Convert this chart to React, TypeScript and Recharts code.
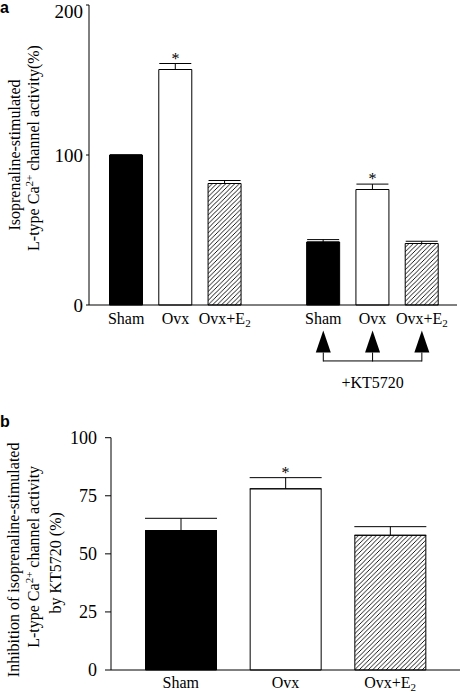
import React from "react";
import { BarChart, Bar, Cell, XAxis, YAxis, ErrorBar, ReferenceDot, ReferenceLine } from "recharts";

const SERIF = '"Liberation Serif", "Times New Roman", Times, serif';
const SANS = '"Liberation Sans", Arial, Helvetica, sans-serif';

// ─── panel a: isoprenaline-stimulated activity ───────────────────────────────
const A_KEYS = ["sham", "ovx", "ovxE2", "gap", "shamKT", "ovxKT", "ovxE2KT"];
const A_GROUPS = ["Sham", "Ovx", "Ovx+E2", "", "Sham", "Ovx", "Ovx+E2"];
const A_MEANS = [100, 157, 81, null, 42, 77, 41];
const A_SEM = [0, 4, 2, null, 1.6, 3.6, 1.5];
const A_SIG = [false, true, false, false, false, true, false];
const A_TICKS = [0, 100, 200];
const A_KT_KEYS = ["shamKT", "ovxKT", "ovxE2KT"];

// ─── panel b: inhibition by KT5720 ───────────────────────────────────────────
const B_KEYS = ["sham", "ovx", "ovxE2"];
const B_GROUPS = ["Sham", "Ovx", "Ovx+E2"];
const B_MEANS = [60, 78, 58];
const B_SEM = [5.3, 4.8, 3.7];
const B_SIG = [false, true, false];
const B_TICKS = [0, 25, 50, 75, 100];

// annotation levels below the axis (data units of panel a)
const ARROW_TIP = -17;
const BRACKET_Y = -37.3;
const KT_TEXT_Y = -51;

function build(keys: string[], groups: string[], means: (number | null)[], sem: (number | null)[], sig: boolean[]) {
  return keys.map((key, i) => ({
    key,
    group: groups[i],
    mean: means[i],
    err: sem[i] == null ? undefined : [0, sem[i]],
    top: means[i] == null ? null : (means[i] as number) + (sem[i] as number),
    sig: sig[i],
  }));
}

const dataA = build(A_KEYS, A_GROUPS, A_MEANS, A_SEM, A_SIG);
const dataB = build(B_KEYS, B_GROUPS, B_MEANS, B_SEM, B_SIG);

const fillFor = (group: string, hatch: string) =>
  group === "Sham" ? "#000" : group === "Ovx" ? "#fff" : `url(#${hatch})`;

const groupTick = (data: { key: string; group: string }[], dy: number) => (props: any) => {
  const { x, y, payload } = props;
  const g = data.find((d) => d.key === payload.value)?.group ?? "";
  const sub = g.endsWith("E2");
  return (
    <text x={x} y={y} dy={dy} textAnchor="middle" fontFamily={SERIF} fontSize={16} fill="#000">
      {sub ? (
        <>
          {g.slice(0, -1)}
          <tspan fontSize={11} dy={3}>2</tspan>
        </>
      ) : (
        g
      )}
    </text>
  );
};

const Ca = () => (
  <>
    L-type Ca
    <tspan fontSize={11} dy={-6}>2+</tspan>
    <tspan dy={6}> channel activity</tspan>
  </>
);

const StarShape = (p: any) => (
  <text x={p.cx} y={p.cy} textAnchor="middle" fontFamily={SERIF} fontSize={16} fill="#000">*</text>
);

const ArrowShape = (p: any) => {
  const { cx, cy } = p;
  return (
    <g>
      <path d={`M${cx},${cy} L${cx + 7.5},${cy + 22} L${cx - 7.5},${cy + 22} Z`} fill="#000" />
      <line x1={cx} x2={cx} y1={cy + 22} y2={cy + 31} stroke="#000" strokeWidth={1} />
    </g>
  );
};

const KtShape = (p: any) => (
  <text x={p.cx} y={p.cy} dy={6} textAnchor="middle" fontFamily={SERIF} fontSize={16} fill="#000">+KT5720</text>
);

const Hatch = ({ id }: { id: string }) => (
  <defs>
    <pattern id={id} patternUnits="userSpaceOnUse" width={4.5} height={4.5}>
      <rect width={4.5} height={4.5} fill="#fff" />
      <path d="M0,4.5 L4.5,0 M-1,1 L1,-1 M3.5,5.5 L5.5,3.5" stroke="#000" strokeWidth={0.9} />
    </pattern>
  </defs>
);

const YLabelA = (props: any) => {
  const vb = props.viewBox;
  const cy = vb.y + vb.height / 2;
  return (
    <g fontFamily={SERIF} fontSize={16} fill="#000">
      <text transform={`translate(20,${cy}) rotate(-90)`} textAnchor="middle">Isoprenaline-stimulated</text>
      <text transform={`translate(39,${cy - 7}) rotate(-90)`} textAnchor="middle">
        <Ca />(%)
      </text>
    </g>
  );
};

const YLabelB = (props: any) => {
  const vb = props.viewBox;
  const cy = vb.y + vb.height / 2 + 6;
  return (
    <g fontFamily={SERIF} fontSize={16} fill="#000">
      <text transform={`translate(19,${cy}) rotate(-90)`} textAnchor="middle">Inhibition of isoprenaline-stimulated</text>
      <text transform={`translate(39,${cy - 3}) rotate(-90)`} textAnchor="middle">
        <Ca />
      </text>
      <text transform={`translate(61,${cy + 3}) rotate(-90)`} textAnchor="middle">by KT5720 (%)</text>
    </g>
  );
};

const yTickA = { fontSize: 19, fill: "#000", fontFamily: SERIF };
const yTickB = { fontSize: 18, fill: "#000", fontFamily: SERIF };

export default function App() {
  return (
    <div style={{ position: "absolute", left: 0, top: 0, width: 460, height: 692, overflow: "hidden", background: "#fff" }}>
      <svg width={20} height={440} style={{ position: "absolute", left: 0, top: 0 }}>
        <text x={0} y={13} fontFamily={SANS} fontWeight={700} fontSize={16}>a</text>
        <text x={0} y={427} fontFamily={SANS} fontWeight={700} fontSize={16}>b</text>
      </svg>

      <div style={{ position: "absolute", left: 0, top: 0 }}>
        <BarChart width={460} height={390} data={dataA} margin={{ top: 5, right: 3, left: 0, bottom: 55 }}>
          <Hatch id="hatch-a" />
          <XAxis
            dataKey="key"
            height={30}
            axisLine={{ stroke: "#000" }}
            tickLine={false}
            tickSize={0}
            tickMargin={0}
            padding={{ left: 12.5, right: 10.5 }}
            interval={0}
            tick={groupTick(dataA, 19)}
          />
          <YAxis
            domain={[0, 200]}
            ticks={A_TICKS}
            width={89}
            tickSize={3}
            tickMargin={3}
            axisLine={{ stroke: "#000" }}
            tickLine={{ stroke: "#000" }}
            tick={yTickA}
            label={YLabelA}
          />
          <Bar dataKey="mean" barSize={33} stroke="#000" strokeWidth={1} isAnimationActive={false}>
            {dataA.map((d) => (
              <Cell key={d.key} fill={fillFor(d.group, "hatch-a")} />
            ))}
            <ErrorBar dataKey="err" width={16} stroke="#000" strokeWidth={1} direction="y" isAnimationActive={false} />
          </Bar>
          {dataA
            .filter((d) => d.sig)
            .map((d) => (
              <ReferenceDot key={d.key} x={d.key} y={d.top as number} ifOverflow="visible" shape={StarShape} />
            ))}
          {A_KT_KEYS.map((k) => (
            <ReferenceDot key={k} x={k} y={ARROW_TIP} ifOverflow="visible" shape={ArrowShape} />
          ))}
          <ReferenceLine
            segment={[
              { x: A_KT_KEYS[0], y: BRACKET_Y },
              { x: A_KT_KEYS[2], y: BRACKET_Y },
            ]}
            stroke="#000"
            strokeWidth={1}
            ifOverflow="visible"
          />
          <ReferenceDot x={A_KT_KEYS[1]} y={KT_TEXT_Y} ifOverflow="visible" shape={KtShape} />
        </BarChart>
      </div>

      <div style={{ position: "absolute", left: 0, top: 390 }}>
        <BarChart width={460} height={302} data={dataB} margin={{ top: 47.7, right: 0, left: 0, bottom: 0 }}>
          <Hatch id="hatch-b" />
          <XAxis
            dataKey="key"
            height={22}
            axisLine={{ stroke: "#000" }}
            tickLine={false}
            tickSize={0}
            tickMargin={0}
            padding={{ left: 17.5, right: 17.5 }}
            interval={0}
            tick={groupTick(dataB, 18)}
          />
          <YAxis
            domain={[0, 100]}
            ticks={B_TICKS}
            width={111}
            tickSize={6}
            tickMargin={8}
            axisLine={{ stroke: "#000" }}
            tickLine={{ stroke: "#000" }}
            tick={yTickB}
            label={YLabelB}
          />
          <Bar dataKey="mean" barSize={71} stroke="#000" strokeWidth={1} isAnimationActive={false}>
            {dataB.map((d) => (
              <Cell key={d.key} fill={fillFor(d.group, "hatch-b")} />
            ))}
            <ErrorBar dataKey="err" width={36} stroke="#000" strokeWidth={1} direction="y" isAnimationActive={false} />
          </Bar>
          {dataB
            .filter((d) => d.sig)
            .map((d) => (
              <ReferenceDot key={d.key} x={d.key} y={d.top as number} ifOverflow="visible" shape={StarShape} />
            ))}
        </BarChart>
      </div>
    </div>
  );
}
